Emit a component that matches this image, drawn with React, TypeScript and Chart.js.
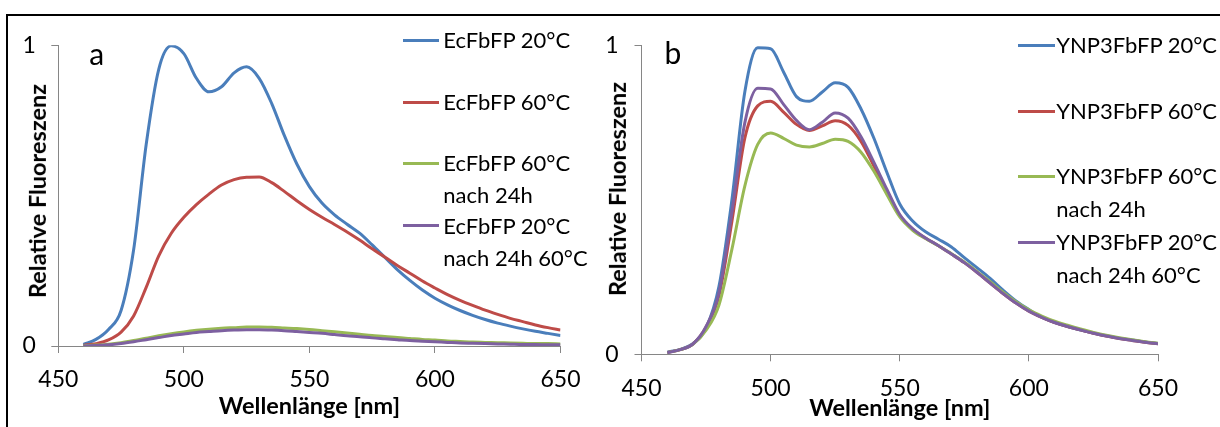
import React, { useEffect, useRef } from "react";
import { Chart, registerables } from "chart.js";

Chart.register(...registerables);

// ---------- data ----------
const wavelengths = [
  460, 465, 470, 475, 480, 485, 490, 495, 500, 505, 510, 515, 520, 525, 530, 535, 540, 545, 550,
  555, 560, 565, 570, 575, 580, 585, 590, 595, 600, 605, 610, 615, 620, 625, 630, 635, 640, 645, 650,
];

// Panel a: EcFbFP
const ecfbfp20 = [
  0.005, 0.022, 0.055, 0.118, 0.32, 0.67, 0.92, 0.998, 0.972, 0.89, 0.845, 0.862, 0.908, 0.928, 0.89,
  0.806, 0.7, 0.605, 0.53, 0.475, 0.436, 0.405, 0.375, 0.336, 0.295, 0.254, 0.218, 0.186, 0.159,
  0.137, 0.118, 0.102, 0.088, 0.076, 0.066, 0.057, 0.049, 0.042, 0.035,
];
const ecfbfp60 = [
  0.002, 0.008, 0.02, 0.046, 0.1, 0.195, 0.3, 0.375, 0.428, 0.47, 0.505, 0.535, 0.553, 0.561,
  0.562, 0.543, 0.514, 0.483, 0.454, 0.428, 0.404, 0.379, 0.352, 0.323, 0.296, 0.268, 0.242, 0.216,
  0.193, 0.171, 0.152, 0.135, 0.119, 0.105, 0.092, 0.081, 0.07, 0.061, 0.053,
];
const ecfbfp60After24h = [
  0.001, 0.003, 0.006, 0.011, 0.018, 0.026, 0.034, 0.041, 0.047, 0.052, 0.056, 0.059, 0.061, 0.063,
  0.063, 0.062, 0.06, 0.058, 0.055, 0.051, 0.047, 0.043, 0.039, 0.035, 0.032, 0.028, 0.025, 0.022,
  0.02, 0.017, 0.015, 0.013, 0.012, 0.011, 0.01, 0.009, 0.008, 0.008, 0.007,
];
const ecfbfp20After24h60 = [
  0.0, 0.002, 0.004, 0.008, 0.014, 0.021, 0.028, 0.035, 0.04, 0.045, 0.048, 0.051, 0.053, 0.054,
  0.054, 0.053, 0.051, 0.048, 0.045, 0.042, 0.038, 0.034, 0.031, 0.027, 0.024, 0.021, 0.018, 0.016,
  0.014, 0.012, 0.01, 0.009, 0.008, 0.007, 0.006, 0.005, 0.005, 0.004, 0.004,
];

// Panel b: YNP3FbFP
const ynp20 = [
  0.007, 0.016, 0.035, 0.085, 0.22, 0.5, 0.85, 0.993, 0.99, 0.915, 0.835, 0.82, 0.85, 0.88, 0.865,
  0.795, 0.7, 0.59, 0.487, 0.432, 0.397, 0.373, 0.348, 0.313, 0.28, 0.246, 0.208, 0.173, 0.145, 0.12,
  0.103, 0.09, 0.079, 0.069, 0.06, 0.052, 0.046, 0.04, 0.035,
];
const ynp60 = [
  0.006, 0.015, 0.034, 0.088, 0.19, 0.43, 0.7, 0.805, 0.82, 0.785, 0.745, 0.725, 0.74, 0.757, 0.742,
  0.69, 0.61, 0.528, 0.45, 0.405, 0.376, 0.352, 0.325, 0.297, 0.265, 0.231, 0.197, 0.166, 0.14, 0.12,
  0.103, 0.09, 0.079, 0.068, 0.059, 0.051, 0.045, 0.039, 0.034,
];
const ynp60After24h = [
  0.006, 0.015, 0.033, 0.078, 0.16, 0.34, 0.545, 0.68, 0.717, 0.7, 0.678, 0.672, 0.683, 0.697, 0.69,
  0.655, 0.593, 0.518, 0.445, 0.402, 0.375, 0.352, 0.326, 0.299, 0.268, 0.235, 0.201, 0.17, 0.144,
  0.124, 0.107, 0.094, 0.082, 0.071, 0.062, 0.054, 0.047, 0.041, 0.036,
];
const ynp20After24h60 = [
  0.005, 0.015, 0.034, 0.09, 0.2, 0.46, 0.75, 0.862, 0.86, 0.81, 0.758, 0.728, 0.752, 0.782, 0.765,
  0.705, 0.622, 0.535, 0.453, 0.407, 0.377, 0.352, 0.325, 0.297, 0.265, 0.231, 0.197, 0.166, 0.14,
  0.12, 0.103, 0.09, 0.079, 0.068, 0.059, 0.051, 0.045, 0.039, 0.034,
];

const ecLabels = [["EcFbFP 20°C"], ["EcFbFP 60°C"], ["EcFbFP 60°C", "nach 24h"], ["EcFbFP 20°C", "nach 24h 60°C"]];
const ynpLabels = [
  ["YNP3FbFP 20°C"],
  ["YNP3FbFP 60°C"],
  ["YNP3FbFP 60°C", "nach 24h"],
  ["YNP3FbFP 20°C", "nach 24h 60°C"],
];

const xTickValues = [450, 500, 550, 600, 650];
const yTickValues = [0, 1];
const seriesColors = ["#4A7EBB", "#BE4B48", "#98B954", "#7D60A0"];

const xTitle = "Wellenlänge [nm]";
const yTitle = "Relative Fluoreszenz";

const FONT = "Lato, 'Noto Sans', sans-serif";
const AXIS_COLOR = "#868686";
const TICK_SIZE = 23;
const TITLE_SIZE = 23.5;

type PanelLayout = {
  left: number;
  width: number;
  padTop: number;
  padRight: number;
  yAxisWidth: number;
  xAxisHeight: number;
  yTickPad: number;
  xTickPad: number;
  xTitlePad: number;
};

function buildConfig(series: number[][], labels: string[][], lay: PanelLayout): any {
  return {
    type: "line",
    data: {
      datasets: series.map((vals, i) => ({
        label: labels[i].join(" "),
        data: wavelengths.map((w, j) => ({ x: w, y: vals[j] })),
        borderColor: seriesColors[i],
        backgroundColor: seriesColors[i],
        borderWidth: 3,
        pointRadius: 0,
        cubicInterpolationMode: "monotone",
        fill: false,
        order: series.length - 1 - i,
      })),
    },
    options: {
      responsive: false,
      animation: false,
      events: [],
      layout: { padding: { left: 0, top: lay.padTop, right: lay.padRight, bottom: 0 } },
      plugins: { legend: { display: false }, tooltip: { enabled: false }, title: { display: false } },
      scales: {
        x: {
          type: "linear",
          min: 450,
          max: 650,
          afterBuildTicks: (s: any) => {
            s.ticks = xTickValues.map((value) => ({ value }));
          },
          afterFit: (s: any) => {
            s.height = lay.xAxisHeight;
          },
          ticks: {
            color: "#000",
            font: { family: FONT, size: TICK_SIZE },
            padding: lay.xTickPad,
            maxRotation: 0,
            autoSkip: false,
          },
          grid: { drawOnChartArea: false, drawTicks: true, tickLength: 7, color: AXIS_COLOR, tickColor: AXIS_COLOR, lineWidth: 1 },
          border: { display: true, color: AXIS_COLOR, width: 1 },
          title: {
            display: true,
            text: xTitle,
            color: "#000",
            font: { family: FONT, size: TITLE_SIZE, weight: "bold" },
            padding: { top: 0, bottom: lay.xTitlePad },
          },
        },
        y: {
          type: "linear",
          min: 0,
          max: 1,
          afterBuildTicks: (s: any) => {
            s.ticks = yTickValues.map((value) => ({ value }));
          },
          afterFit: (s: any) => {
            s.width = lay.yAxisWidth;
          },
          ticks: {
            color: "#000",
            font: { family: FONT, size: TICK_SIZE },
            padding: lay.yTickPad,
          },
          grid: { drawOnChartArea: false, drawTicks: true, tickLength: 7, color: AXIS_COLOR, tickColor: AXIS_COLOR, lineWidth: 1 },
          border: { display: true, color: AXIS_COLOR, width: 1 },
          title: { display: false },
        },
      },
    },
  };
}

const layoutA: PanelLayout = {
  left: 8,
  width: 592,
  padTop: 20.7,
  padRight: 39.5,
  yAxisWidth: 50.3,
  xAxisHeight: 81,
  yTickPad: 15.4,
  xTickPad: 13.2,
  xTitlePad: 6.9,
};
const layoutB: PanelLayout = {
  left: 600,
  width: 620,
  padTop: 24,
  padRight: 62,
  yAxisWidth: 41.5,
  xAxisHeight: 72.7,
  yTickPad: 15.9,
  xTickPad: 13.8,
  xTitlePad: 4.9,
};

function Panel({ series, labels, lay }: { series: number[][]; labels: string[][]; lay: PanelLayout }) {
  const ref = useRef<HTMLCanvasElement | null>(null);
  useEffect(() => {
    if (!ref.current) return;
    const chart = new Chart(ref.current, buildConfig(series, labels, lay));
    return () => chart.destroy();
  }, []);
  return (
    <canvas
      ref={ref}
      width={lay.width}
      height={411}
      style={{ position: "absolute", left: lay.left, top: 16, width: lay.width, height: 411 }}
    />
  );
}

function YTitle({ cx, cy }: { cx: number; cy: number }) {
  return (
    <div
      style={{
        position: "absolute",
        left: cx,
        top: cy,
        transform: "translate(-50%, -50%) rotate(-90deg)",
        fontFamily: FONT,
        fontSize: TITLE_SIZE,
        fontWeight: "bold",
        lineHeight: 1.2,
        color: "#000",
        whiteSpace: "nowrap",
      }}
    >
      {yTitle}
    </div>
  );
}

function Legend({ labels, lineLeft, lineWidth, textLeft, rows, lineHeight }: {
  labels: string[][];
  lineLeft: number;
  lineWidth: number;
  textLeft: number;
  rows: number[];
  lineHeight: number;
}) {
  return (
    <>
      {labels.map((lines, i) => (
        <React.Fragment key={i}>
          <div
            style={{
              position: "absolute",
              left: lineLeft,
              top: rows[i] - 1.5,
              width: lineWidth,
              height: 3,
              background: seriesColors[i],
            }}
          />
          <div
            style={{
              position: "absolute",
              left: textLeft,
              top: rows[i] - lineHeight / 2,
              fontFamily: FONT,
              fontSize: 22,
              lineHeight: `${lineHeight}px`,
              color: "#000",
              whiteSpace: "nowrap",
            }}
          >
            {lines.map((l, k) => (
              <div key={k}>{l}</div>
            ))}
          </div>
        </React.Fragment>
      ))}
    </>
  );
}

export default function App() {
  return (
    <div
      style={{
        position: "absolute",
        left: 0,
        top: 0,
        width: 1220,
        height: 427,
        background: "#fff",
        overflow: "hidden",
      }}
    >
      <div
        style={{
          position: "absolute",
          left: 6,
          top: 14,
          width: 1220,
          height: 420,
          borderTop: "2.5px solid #000",
          borderLeft: "2.5px solid #000",
        }}
      />
      <Panel series={[ecfbfp20, ecfbfp60, ecfbfp60After24h, ecfbfp20After24h60]} labels={ecLabels} lay={layoutA} />
      <Panel series={[ynp20, ynp60, ynp60After24h, ynp20After24h60]} labels={ynpLabels} lay={layoutB} />
      <YTitle cx={37} cy={191} />
      <YTitle cx={616.6} cy={189} />
      <Legend labels={ecLabels} lineLeft={403} lineWidth={36} textLeft={443.3} rows={[40, 102.3, 163.3, 225.7]} lineHeight={32} />
      <Legend labels={ynpLabels} lineLeft={1018} lineWidth={37} textLeft={1056.3} rows={[45, 111.7, 176.7, 242.7]} lineHeight={32.5} />
      <div style={{ position: "absolute", left: 96.7, top: 52.5, transform: "translate(-50%, -50%)", fontFamily: FONT, fontSize: 30, lineHeight: 1, color: "#000" }}>a</div>
      <div style={{ position: "absolute", left: 673, top: 52, transform: "translate(-50%, -50%)", fontFamily: FONT, fontSize: 30, lineHeight: 1, color: "#000" }}>b</div>
    </div>
  );
}
